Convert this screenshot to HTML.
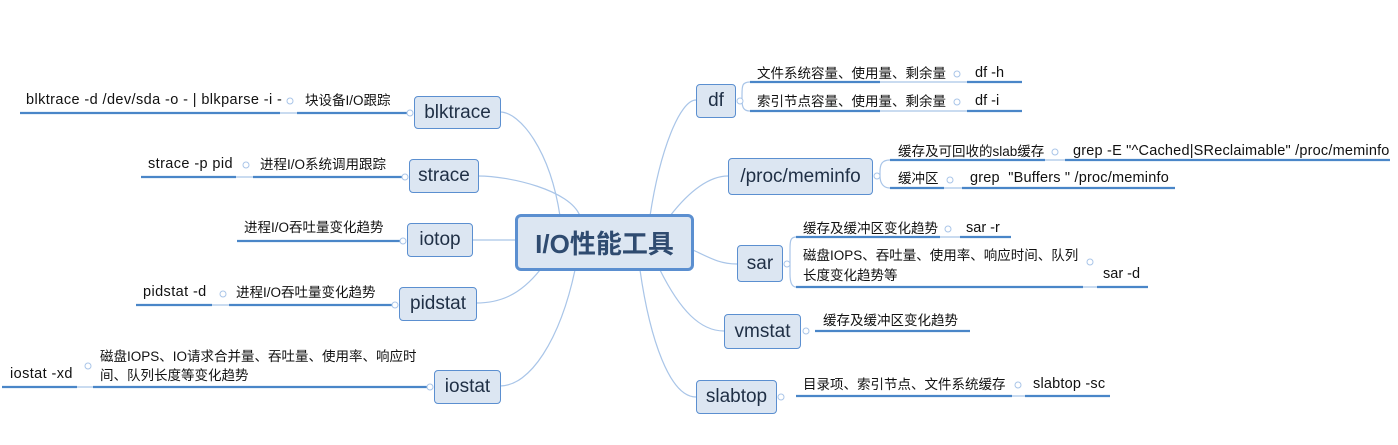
<!DOCTYPE html>
<html><head><meta charset="utf-8"><style>
body{margin:0;background:#fff;width:1398px;height:445px;overflow:hidden;position:relative;font-family:"Liberation Sans","Noto Sans CJK SC",sans-serif;}
.t{position:absolute;font-size:13.5px;color:#111;white-space:nowrap;line-height:19px}
.l{font-size:14.5px}
.n{position:absolute;box-sizing:border-box;background:#dce6f2;border:1.5px solid #5b8fd0;border-radius:4px;font-size:19px;color:#1f2f45;display:flex;align-items:center;justify-content:center}
</style></head><body>
<svg width="1398" height="445" style="position:absolute;left:0;top:0">
<g fill="none" stroke="#a9c5e8" stroke-width="1.2">
<path d="M560 216 C550 150 520 112 500 112"/>
<path d="M580 216 C570 190 510 176 478 176"/>
<path d="M515 240 L472 240"/>
<path d="M540 270 C520 295 500 303 476 303"/>
<path d="M575 270 C560 340 530 386 500 386"/>
<path d="M650 216 C660 150 680 100 696 100"/>
<path d="M670 216 C690 190 710 176 728 176"/>
<path d="M693 250 C710 258 720 264 737 264"/>
<path d="M660 270 C680 310 700 331 724 331"/>
<path d="M640 270 C650 340 670 397 696 397"/>
<path d="M750 82 C742 82 742 86 742 95 L742 100 C742 108 744 111 750 111"/>
<path d="M890 160 C882 160 880 164 880 172 L880 176 C880 184 884 188 890 188"/>
<path d="M796 237 C790 237 790 242 790 250 L790 274 C790 282 792 287 796 287"/>
<path d="M280 113 L297 113 M236 177 L253 177 M212 305 L229 305 M77 387 L93 387"/>
<path d="M880 82 L967 82 M880 111 L967 111 M1045 160 L1065 160 M944 188 L962 188 M940 237 L960 237 M1083 287 L1097 287 M1012 396 L1025 396"/>
</g>
<g stroke="#4a86c8" stroke-width="2.2">
<path d="M20 113 H280 M297 113 H408 M141 177 H236 M253 177 H403 M237 241 H401 M136 305 H212 M229 305 H393 M2 387 H77 M93 387 H428"/>
<path d="M750 82 H880 M967 82 H1022 M750 111 H880 M967 111 H1022 M890 160 H1045 M1065 160 H1390 M890 188 H944 M962 188 H1175 M796 237 H940 M960 237 H1011 M796 287 H1083 M1097 287 H1148 M815 331 H970 M796 396 H1012 M1025 396 H1110"/>
</g>
<g fill="#fff" stroke="#a9c5e8" stroke-width="1">
<circle cx="290" cy="101" r="3"/><circle cx="410" cy="113" r="3"/>
<circle cx="246" cy="165" r="3"/><circle cx="405" cy="177" r="3"/>
<circle cx="403" cy="241" r="3"/>
<circle cx="223" cy="294" r="3"/><circle cx="395" cy="305" r="3"/>
<circle cx="88" cy="366" r="3"/><circle cx="430" cy="387" r="3"/>
<circle cx="740" cy="101" r="3"/><circle cx="957" cy="74" r="3"/><circle cx="957" cy="102" r="3"/>
<circle cx="877" cy="176" r="3"/><circle cx="1055" cy="152" r="3"/><circle cx="950" cy="180" r="3"/>
<circle cx="787" cy="264" r="3"/><circle cx="948" cy="229" r="3"/><circle cx="1090" cy="262" r="3"/>
<circle cx="806" cy="331" r="3"/><circle cx="781" cy="397" r="3"/><circle cx="1018" cy="385" r="3"/>
</g>
</svg>
<div class="n" style="left:515px;top:214px;width:179px;height:57px;border:3px solid #5b8fd0;border-radius:6px;font-size:26px;font-weight:bold;color:#2f4b70">I/O性能工具</div>
<div class="n" style="left:414px;top:96px;width:87px;height:33px">blktrace</div>
<div class="n" style="left:409px;top:159px;width:70px;height:34px">strace</div>
<div class="n" style="left:407px;top:223px;width:66px;height:34px">iotop</div>
<div class="n" style="left:399px;top:287px;width:78px;height:34px">pidstat</div>
<div class="n" style="left:434px;top:370px;width:67px;height:34px">iostat</div>
<div class="n" style="left:696px;top:84px;width:40px;height:34px">df</div>
<div class="n" style="left:728px;top:158px;width:145px;height:37px">/proc/meminfo</div>
<div class="n" style="left:737px;top:245px;width:46px;height:37px">sar</div>
<div class="n" style="left:724px;top:314px;width:77px;height:35px">vmstat</div>
<div class="n" style="left:696px;top:380px;width:81px;height:34px">slabtop</div>

<div class="t l" style="left:26px;top:91px;letter-spacing:0.4px">blktrace -d /dev/sda -o - | blkparse -i -</div>
<div class="t" style="left:305px;top:91px">块设备I/O跟踪</div>
<div class="t l" style="left:148px;top:155px;letter-spacing:0.4px">strace -p pid</div>
<div class="t" style="left:260px;top:155px">进程I/O系统调用跟踪</div>
<div class="t" style="left:244px;top:218px">进程I/O吞吐量变化趋势</div>
<div class="t l" style="left:143px;top:283px;letter-spacing:0.4px">pidstat -d</div>
<div class="t" style="left:236px;top:283px">进程I/O吞吐量变化趋势</div>
<div class="t l" style="left:10px;top:365px;letter-spacing:0.4px">iostat -xd</div>
<div class="t" style="left:100px;top:347px">磁盘IOPS、IO请求合并量、吞吐量、使用率、响应时<br>间、队列长度等变化趋势</div>

<div class="t" style="left:757px;top:64px">文件系统容量、使用量、剩余量</div>
<div class="t l" style="left:975px;top:64px">df -h</div>
<div class="t" style="left:757px;top:92px">索引节点容量、使用量、剩余量</div>
<div class="t l" style="left:975px;top:92px">df -i</div>
<div class="t" style="left:898px;top:142px">缓存及可回收的slab缓存</div>
<div class="t l" style="left:1073px;top:142px;letter-spacing:0.2px">grep -E "^Cached|SReclaimable" /proc/meminfo</div>
<div class="t" style="left:898px;top:169px">缓冲区</div>
<div class="t l" style="left:970px;top:169px;letter-spacing:0.2px">grep &nbsp;"Buffers " /proc/meminfo</div>
<div class="t" style="left:803px;top:219px">缓存及缓冲区变化趋势</div>
<div class="t l" style="left:966px;top:219px">sar -r</div>
<div class="t" style="left:803px;top:246px;line-height:20px">磁盘IOPS、吞吐量、使用率、响应时间、队列<br>长度变化趋势等</div>
<div class="t l" style="left:1103px;top:265px">sar -d</div>
<div class="t" style="left:823px;top:311px">缓存及缓冲区变化趋势</div>
<div class="t" style="left:803px;top:375px">目录项、索引节点、文件系统缓存</div>
<div class="t l" style="left:1033px;top:375px;letter-spacing:0.2px">slabtop -sc</div>
</body></html>
